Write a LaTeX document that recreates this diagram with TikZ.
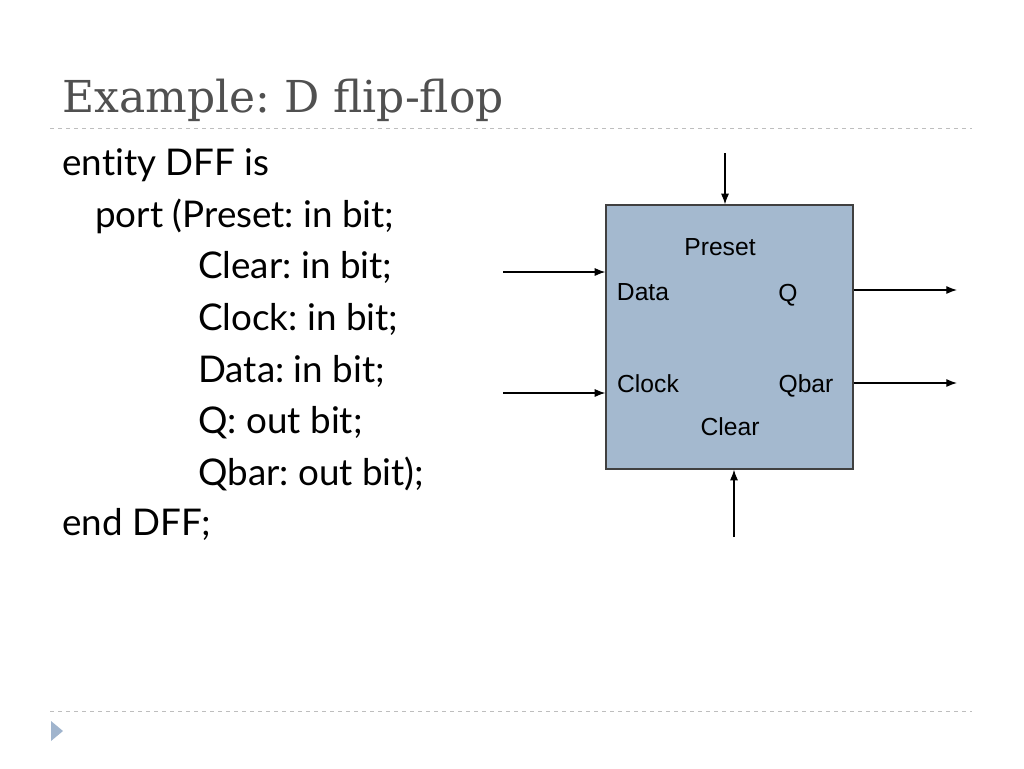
\documentclass[tikz,border=0pt]{standalone}
\usepackage{fontspec}
\setmainfont{Lato}[Ligatures={NoCommon}]
\newfontfamily\titlefont{DejaVu Serif}
\newfontfamily\portfont{Liberation Sans}
\usetikzlibrary{arrows.meta}
\definecolor{boxblue}{RGB}{164,185,207}
\definecolor{titlegray}{RGB}{80,80,80}
\definecolor{rulegray}{RGB}{190,190,190}
\definecolor{bullblue}{RGB}{160,180,205}
\tikzset{
  code/.style={anchor=base west,inner sep=0pt,font=\fontsize{27.6}{27.6}\selectfont},
  pin/.style={inner sep=0pt,font=\portfont\fontsize{18.5}{18.5}\selectfont},
  wire/.style={-{Latex[length=8pt,width=6pt]},line width=0.9pt}
}
\frenchspacing
\begin{document}
\begin{tikzpicture}[x=0.75pt,y=-0.75pt]
\useasboundingbox (0,0) rectangle (1024,768);

% title and rules
\node[anchor=base west,inner sep=0pt,text=titlegray,font=\titlefont\fontsize{33}{33}\selectfont] (title) at (62,112) {Example: D flip-flop};
\draw[rulegray,dashed,line width=0.6pt] (50,128) -- (972,128);
\draw[rulegray,dashed,line width=0.6pt] (50,711) -- (972,711);
\fill[bullblue] (51,721) -- (63,731) -- (51,741) -- cycle;

% entity declaration
\node[code] (l1) at (62,175) {entity DFF is};
\node[code] (l2) at (95,227) {port (Preset: in bit;};
\node[code] (l3) at (198,278) {Clear: in bit;};
\node[code] (l4) at (198,330) {Clock: in bit;};
\node[code] (l5) at (198,382) {Data: in bit;};
\node[code] (l6) at (198,433) {Q: out bit;};
\node[code] (l7) at (198,485) {Qbar: out bit);};
\node[code] (l8) at (62,535) {end DFF;};

% flip-flop block
\node[draw=black!75,fill=boxblue,line width=0.9pt,minimum width=247*0.75pt,minimum height=264*0.75pt,inner sep=0pt] (dff) at (729.5,337) {};
\node[pin] (preset) at (720,247) {Preset};
\node[pin] (data) at (643,292) {Data};
\node[pin] (q) at (788,295) {Q};
\node[pin] (clock) at (648,384) {Clock};
\node[pin] (qbar) at (806,386) {Qbar};
\node[pin] (clear) at (730,427) {Clear};

% pins
\coordinate (presetin) at (725,153);
\coordinate (datain) at (503,272);
\coordinate (clockin) at (503,393);
\coordinate (clearin) at (734,537);
\coordinate (qout) at (957,290);
\coordinate (qbarout) at (957,383);
\draw[wire] (presetin) -- (presetin |- dff.north);
\draw[wire] (datain) -- (datain -| dff.west);
\draw[wire] (clockin) -- (clockin -| dff.west);
\draw[wire] (clearin) -- (clearin |- dff.south);
\draw[wire] (qout -| dff.east) -- (qout);
\draw[wire] (qbarout -| dff.east) -- (qbarout);
\end{tikzpicture}
\end{document}
